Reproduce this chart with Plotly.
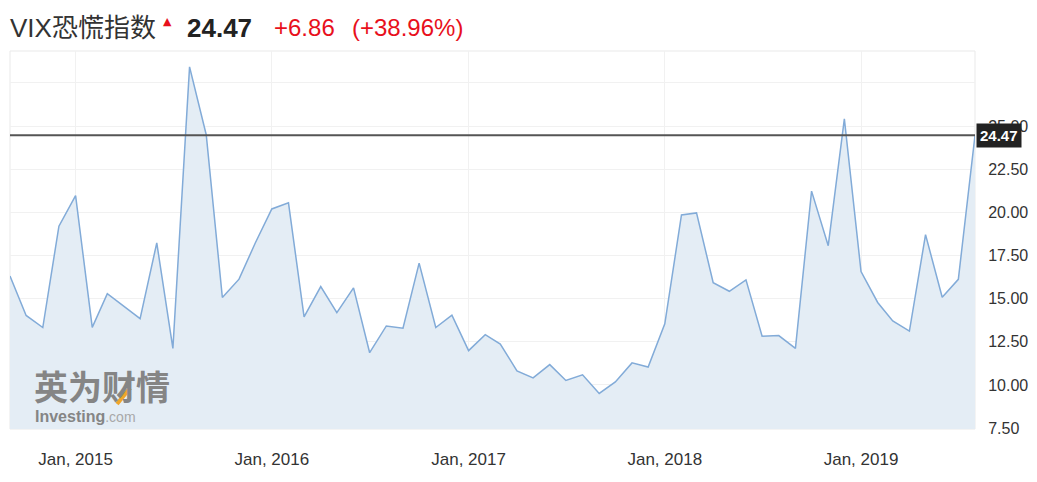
import pandas as pd
import plotly.graph_objects as go

# ---- data ----
start_month = "2014-09-01"
n_months = 60
dates = pd.date_range(start_month, periods=n_months, freq="MS")
vix_close = [16.31, 14.03, 13.33, 19.20,
             20.97, 13.34, 15.29, 14.55, 13.84, 18.23, 12.12, 28.43, 24.50, 15.07, 16.13, 18.21,
             20.20, 20.55, 13.95, 15.70, 14.19, 15.63, 11.87, 13.42, 13.29, 17.06, 13.33, 14.04,
             11.99, 12.92, 12.37, 10.82, 10.41, 11.18, 10.26, 10.59, 9.51, 10.18, 11.28, 11.04,
             13.54, 19.85, 19.97, 15.93, 15.43, 16.09, 12.83, 12.86, 12.12, 21.23, 18.07, 25.42,
             16.57, 14.78, 13.71, 13.12, 18.71, 15.08, 16.12, 24.47]
last_value = 24.47
change_text = "+6.86"
change_pct_text = "(+38.96%)"
title_text = "VIX恐慌指数"
x_tick_vals = ["2015-01-01", "2016-01-01", "2017-01-01", "2018-01-01", "2019-01-01"]
x_tick_text = ["Jan, 2015", "Jan, 2016", "Jan, 2017", "Jan, 2018", "Jan, 2019"]
y_tick_vals = [7.5, 10.0, 12.5, 15.0, 17.5, 20.0, 22.5, 25.0, 27.5]
y_tick_text = ["7.50", "10.00", "12.50", "15.00", "17.50", "20.00", "22.50", "25.00", ""]

LATIN = "Liberation Sans, Arial, Noto Sans CJK SC, sans-serif"
CJK = "Noto Sans CJK SC, Liberation Sans, sans-serif"
RED = "#e8101c"

fig = go.Figure()
fig.add_trace(go.Scatter(
    x=dates, y=vix_close, mode="lines",
    line=dict(color="#82abd8", width=1.5),
    fill="tozeroy", fillcolor="#e4edf5",
    hoverinfo="x+y", showlegend=False,
))

# the page body has an 8px margin, so the figure is sized/offset to compensate
fig.update_layout(
    width=1029, height=474,
    margin=dict(l=2, r=62, t=43, b=53),
    paper_bgcolor="white", plot_bgcolor="white",
    font=dict(family=LATIN, color="#333"),
    xaxis=dict(
        type="date", range=["2014-09-01", "2019-08-01"],
        tickvals=x_tick_vals, ticktext=x_tick_text,
        tickfont=dict(size=17, color="#333"),
        ticks="outside", ticklen=15, tickcolor="rgba(0,0,0,0)",
        showgrid=True, gridcolor="#f1f1f1", gridwidth=1,
        zeroline=False, showline=False,
    ),
    yaxis=dict(
        side="right", range=[7.45, 29.35],
        tickvals=y_tick_vals, ticktext=y_tick_text,
        tickfont=dict(size=16, color="#333"),
        ticks="outside", ticklen=9, tickcolor="rgba(0,0,0,0)",
        showgrid=True, gridcolor="#f1f1f1", gridwidth=1,
        zeroline=False, showline=False,
    ),
)

# plot frame
fig.add_shape(type="rect", xref="paper", yref="paper", x0=0, x1=1, y0=0, y1=1,
              line=dict(color="#e9e9e9", width=1), layer="below")
# last value line
fig.add_shape(type="line", xref="paper", yref="y", x0=0, x1=1, y0=last_value, y1=last_value,
              line=dict(color="#555555", width=2))

ann = []
# last value badge
ann.append(dict(x=1, xref="paper", y=last_value, yref="y", xanchor="left", yanchor="middle",
                text="<b>%.2f</b>" % last_value, showarrow=False, xshift=1,
                font=dict(family=LATIN, size=15, color="white"),
                bgcolor="#222222", borderpad=3))
# header
ann.append(dict(x=0, xref="paper", y=1.061, yref="paper", xanchor="left", yanchor="middle",
                text=title_text, showarrow=False, xshift=-2,
                font=dict(family=LATIN, size=26, color="#333")))
ann.append(dict(x=0.1627, xref="paper", y=1.079, yref="paper", xanchor="center", yanchor="middle",
                text="▲", showarrow=False,
                font=dict(family="DejaVu Sans", size=11, color=RED)))
ann.append(dict(x=0.1813, xref="paper", y=1.061, yref="paper", xanchor="left", yanchor="middle",
                text="<b>%.2f</b>" % last_value, showarrow=False,
                font=dict(family=LATIN, size=26, color="#222")))
ann.append(dict(x=0.2715, xref="paper", y=1.061, yref="paper", xanchor="left", yanchor="middle",
                text=change_text, showarrow=False,
                font=dict(family=LATIN, size=24, color=RED)))
ann.append(dict(x=0.3523, xref="paper", y=1.061, yref="paper", xanchor="left", yanchor="middle",
                text=change_pct_text, showarrow=False,
                font=dict(family=LATIN, size=24, color=RED)))
# watermark
ann.append(dict(x=0.0228, xref="paper", y=0.115, yref="paper", xanchor="left", yanchor="middle",
                text="<b>英为财情</b>", showarrow=False,
                font=dict(family=CJK, size=34, color="#858585")))
ann.append(dict(x=0.0238, xref="paper", y=0.032, yref="paper", xanchor="left", yanchor="middle",
                text="<b>Investing</b><span style='font-size:14px;color:#a8a8a8'>.com</span>",
                showarrow=False,
                font=dict(family=LATIN, size=16, color="#858585")))
fig.update_layout(annotations=ann)

# orange stroke of the watermark logo (drawn above the text)
fig.add_shape(type="line", xref="paper", yref="paper",
              x0=0.1109, y0=0.066, x1=0.1244, y1=0.1085,
              line=dict(color="#f0a52a", width=4), layer="above")

fig.write_html("out.html")
